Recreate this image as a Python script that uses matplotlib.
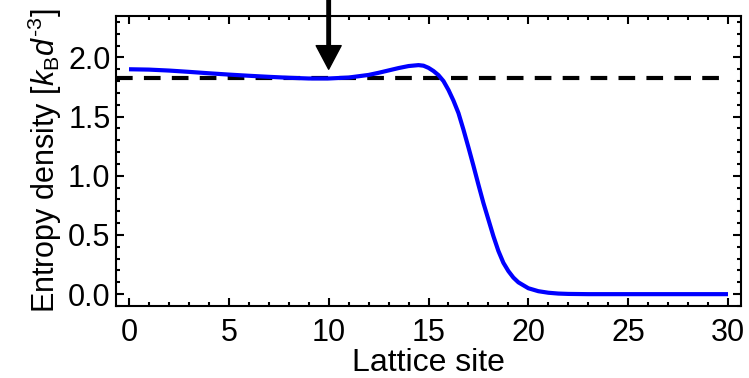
import numpy as np
import matplotlib
matplotlib.use("Agg")
import matplotlib.pyplot as plt
from matplotlib.ticker import MultipleLocator

plt.rcParams["font.family"] = ["Liberation Sans", "DejaVu Sans"]
plt.rcParams["mathtext.fontset"] = "custom"
plt.rcParams["mathtext.rm"] = "Liberation Sans"
plt.rcParams["mathtext.it"] = "Liberation Sans:italic"

# entropy density profile
site = [0, 1, 2, 3, 4, 5, 6, 7, 8, 9, 10, 11, 12, 12.5, 13, 13.5, 14, 14.5,
        14.75, 15, 15.25, 15.5, 15.75, 16, 16.25, 16.5, 16.75, 17, 17.25,
        17.5, 17.75, 18, 18.25, 18.5, 18.75, 19, 19.25, 19.5, 20, 20.5, 21,
        21.5, 22, 23, 24, 25, 26, 27, 28, 29, 30]
entropy = [1.900, 1.897, 1.889, 1.878, 1.866, 1.855, 1.845, 1.836, 1.828,
           1.822, 1.822, 1.830, 1.852, 1.870, 1.890, 1.910, 1.927, 1.935,
           1.930, 1.912, 1.885, 1.850, 1.800, 1.725, 1.635, 1.530, 1.390,
           1.240, 1.085, 0.925, 0.770, 0.630, 0.490, 0.365, 0.265, 0.195,
           0.140, 0.100, 0.050, 0.025, 0.012, 0.005, 0.002, 0.0, 0.0, 0.0,
           0.0, 0.0, 0.0, 0.0, 0.0]
reference_level = 1.825
arrow_site = 10
arrow_tip = 1.90

fig = plt.figure(figsize=(7.49, 3.78), dpi=100)
ax = fig.add_axes([0.1549, 0.1905, 0.8344, 0.7672])

ax.plot([-0.65, 30], [reference_level, reference_level], color="black",
        lw=3, dashes=(4, 2.7))
ax.plot(site, entropy, color="#0000ff", lw=3, solid_capstyle="butt")

ax.annotate("", xy=(arrow_site, arrow_tip), xytext=(arrow_site, 2.6),
            arrowprops=dict(facecolor="black", edgecolor="black", width=2.5,
                            headwidth=18, headlength=17, shrink=0),
            annotation_clip=False)

ax.set_xlim(-0.65, 30.65)
ax.set_ylim(-0.1, 2.35)
ax.xaxis.set_major_locator(MultipleLocator(5))
ax.xaxis.set_minor_locator(MultipleLocator(1))
ax.yaxis.set_major_locator(MultipleLocator(0.5))
ax.yaxis.set_minor_locator(MultipleLocator(0.1))
ax.tick_params(which="both", direction="in", top=True, right=True, width=1.5,
               labelsize=22)
ax.tick_params(which="major", length=5.5)
ax.tick_params(which="minor", length=3)
ax.tick_params(axis="x", pad=9)
ax.tick_params(axis="y", pad=4)
for s in ax.spines.values():
    s.set_linewidth(1.5)

ax.set_xlabel("Lattice site", fontsize=23, labelpad=0)
ax.set_ylabel(r"Entropy density [$k_\mathrm{B}d^{\text{-}3}$]", fontsize=22,
              labelpad=3)

fig.savefig("out.png", dpi=100)
